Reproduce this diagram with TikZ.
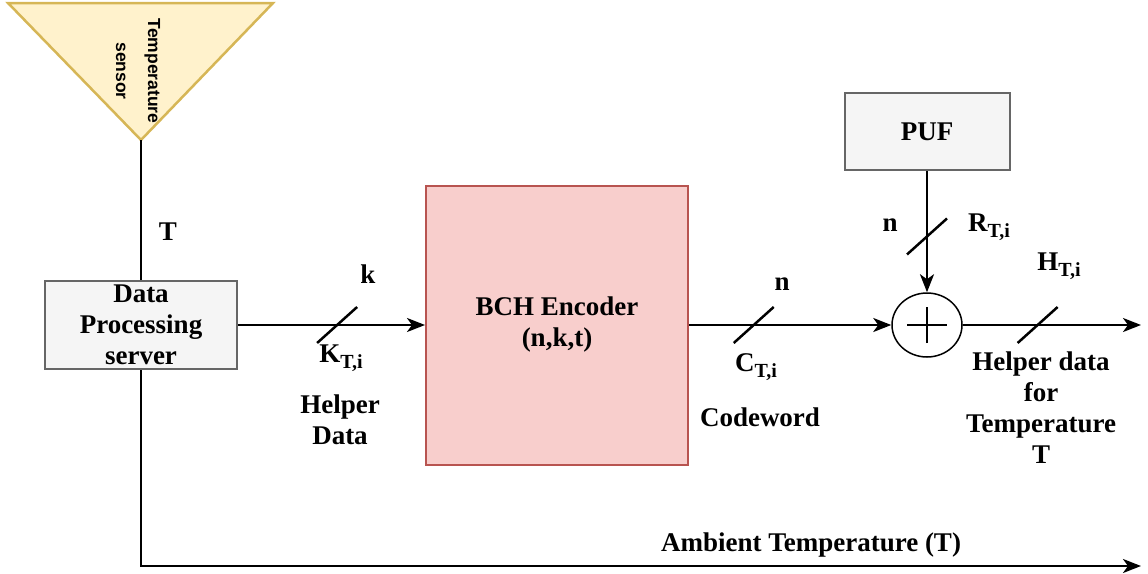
\documentclass[tikz,border=0pt]{standalone}
\usepackage{fontspec}
\setmainfont{Liberation Serif}
\setsansfont{Liberation Sans}
\usetikzlibrary{arrows.meta,shapes.geometric}
\definecolor{sensfill}{HTML}{FFF2CC}
\definecolor{sensdraw}{HTML}{D6B656}
\definecolor{grayfill}{HTML}{F5F5F5}
\definecolor{graydraw}{HTML}{666666}
\definecolor{redfill}{HTML}{F8CECC}
\definecolor{reddraw}{HTML}{B85450}
\newcommand{\subs}[1]{\raisebox{-6pt}{\fontsize{20}{20}\selectfont #1}}
\begin{document}
\begin{tikzpicture}[x=1pt,y=-1pt,
  lbl/.style={font=\bfseries\fontsize{27}{31}\selectfont, inner sep=0pt, align=center},
  wire/.style={line width=2.5pt},
  arr/.style={wire,-{Stealth[length=18pt,width=14pt,inset=5pt]}},
  graybox/.style={draw=graydraw, fill=grayfill, line width=2pt},
  slashline/.style={line width=2.5pt}]
\useasboundingbox (0,0) rectangle (1148,573);
% temperature sensor
\coordinate (apex) at (141,140);
\draw[draw=sensdraw, fill=sensfill, line width=2.5pt, line join=miter] (8,3) -- (273,3) -- (apex) -- cycle;
\node[rotate=-90, align=center, inner sep=0pt, font=\sffamily\bfseries\fontsize{17.5}{32}\selectfont] (senslbl) at (138,71) {Temperature\\sensor};
% boxes
\node[graybox, minimum width=192, minimum height=88, lbl, inner sep=0pt] (dp) at (141,325) {Data\\Processing\\server};
\node[draw=reddraw, fill=redfill, line width=2pt, minimum width=262, minimum height=279, lbl] (bch) at (557,325) {BCH Encoder\\(n,k,t)};
\node[graybox, minimum width=165, minimum height=77, lbl] (puf) at (927,131.5) {PUF};
\node[draw, ellipse, line width=1.5pt, minimum width=70, minimum height=64, inner sep=0pt] (xor) at (927,325) {};
\draw[line width=1.2pt] ([xshift=-20pt]xor.center) -- ([xshift=20pt]xor.center);
\draw[line width=1.2pt] ([yshift=-18pt]xor.center) -- ([yshift=18pt]xor.center);
\coordinate (out) at (1141,325);
\coordinate (amb) at (1141,566);
% connectors
\draw[wire] (apex) -- (dp.north);
\draw[arr] (dp.east) -- coordinate[pos=0.53] (s1) (bch.west);
\draw[arr] (bch.east) -- coordinate[pos=0.32] (s2) (xor.west);
\draw[arr] (puf.south) -- coordinate[pos=0.54] (s3) (xor.north);
\draw[arr] (xor.east) -- coordinate[pos=0.42] (s4) (out);
\draw[arr] (dp.south) |- (amb);
% slashes
\foreach \s in {s1,s2,s3,s4}
  \draw[slashline] ([shift={(-20pt,-18pt)}]\s) -- ([shift={(20pt,18pt)}]\s);
% labels
\node[lbl] (tl) at (168,232) {T};
\node[lbl] (kl) at (368,274) {k};
\node[lbl] (kti) at (341,358) {K\subs{T,i}};
\node[lbl] (hd) at (340,420) {Helper\\Data};
\node[lbl] (nl1) at (782,284) {n};
\node[lbl] (cti) at (756,367) {C\subs{T,i}};
\node[lbl] (cw) at (760,417) {Codeword};
\node[lbl] (nl2) at (890,225) {n};
\node[lbl] (rti) at (989,227) {R\subs{T,i}};
\node[lbl] (hti) at (1059,266) {H\subs{T,i}};
\node[lbl] (hdt) at (1041,408) {Helper data\\for\\Temperature\\T};
\node[lbl] (ambl) at (811,545) {Ambient Temperature (T)};
\end{tikzpicture}
\end{document}
